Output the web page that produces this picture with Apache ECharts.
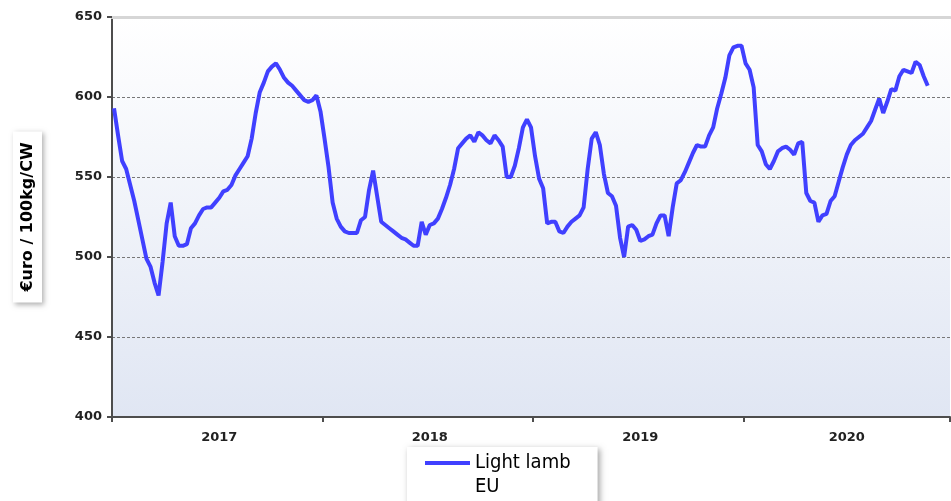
<!DOCTYPE html>
<html>
<head>
<meta charset="utf-8">
<title>Light lamb EU</title>
<script src="https://cdn.jsdelivr.net/npm/echarts@6/dist/echarts.min.js"></script>
<style>
  html, body { margin: 0; padding: 0; background: #fff; }
  #chart { width: 951px; height: 501px; }
</style>
</head>
<body>
<div id="chart"></div>
<script>
// weekly price (euro / 100kg carcass weight)
var years = ['2017', '2018', '2019', '2020'];
var weeksPerYear = [52, 52, 52, 51]; // last year axis is cut a little short
var yTicks = [400, 450, 500, 550, 600, 650];
var seriesName = 'Light lamb EU';

var price2017 = [
  593, 576, 560, 555, 545, 535, 523, 511, 499, 494,
  484, 476, 497, 521, 534, 513, 507, 507, 508, 518,
  521, 526, 530, 531, 531, 534, 537, 541, 542, 545,
  551, 555, 559, 563, 574, 590, 603, 609, 616, 619,
  621, 617, 612, 609, 607, 604, 601, 598, 597, 598,
  601, 591
];
var price2018 = [
  574, 556, 534, 524, 519, 516, 515, 515, 515, 523,
  525, 542, 554, 538, 522, 520, 518, 516, 514, 512,
  511, 509, 507, 507, 522, 514, 520, 521, 524, 530,
  537, 545, 555, 568, 571, 574, 576, 572, 578, 576,
  573, 571, 576, 573, 569, 550, 550, 557, 568, 581,
  586, 581
];
var price2019 = [
  563, 549, 543, 521, 522, 522, 516, 515, 519, 522,
  524, 526, 531, 555, 574, 578, 570, 552, 540, 538,
  532, 512, 500, 519, 520, 517, 510, 511, 513, 514,
  521, 526, 526, 513, 531, 546, 548, 553, 559, 565,
  570, 569, 569, 576, 581, 593, 602, 612, 626, 631,
  632, 632
];
var price2020 = [
  621, 617, 606, 570, 566, 558, 555, 560, 566, 568,
  569, 567, 564, 571, 572, 540, 535, 534, 522, 526,
  527, 535, 538, 547, 556, 564, 570, 573, 575, 577,
  581, 585, 592, 599, 590, 597, 605, 604, 613, 617,
  616, 615, 622, 620, 613, 607
];

// week categories, ticks at year start, year label in the middle of the year
var weeks = [];
var yearStart = [];
var yearMid = [];
years.forEach(function (y, k) {
  yearStart.push(weeks.length);
  yearMid.push(weeks.length + Math.floor(weeksPerYear[k] / 2));
  for (var w = 1; w <= weeksPerYear[k]; w++) {
    weeks.push(y + ' W' + w);
  }
});
var prices = price2017.concat(price2018, price2019, price2020);

var axisColor = '#4d4d4d';
var labelFont = {
  fontFamily: 'DejaVu Sans',
  fontWeight: 'bold',
  fontSize: 13,
  color: '#222'
};

var chart = echarts.init(document.getElementById('chart'), null, { renderer: 'canvas' });

chart.setOption({
  backgroundColor: '#fff',
  animation: false,
  grid: {
    left: 112,
    right: 1,
    top: 17,
    bottom: 84,
    containLabel: false,
    outerBoundsMode: 'none',
    show: true,
    borderWidth: 0,
    backgroundColor: new echarts.graphic.LinearGradient(0, 0, 0, 1, [
      { offset: 0, color: '#ffffff' },
      { offset: 1, color: '#e0e6f3' }
    ])
  },
  legend: {
    left: 407,
    top: 447,
    orient: 'vertical',
    backgroundColor: '#fff',
    shadowBlur: 6,
    shadowColor: 'rgba(0,0,0,0.35)',
    shadowOffsetX: 2,
    shadowOffsetY: 2,
    padding: [4, 27, 12, 18],
    itemWidth: 45,
    itemHeight: 28,
    // line sits on the first text row, the empty stroke just stretches the box
    icon: 'path://M0,0H45V4H0Z M0,28L45,28',
    symbolKeepAspect: false,
    textStyle: {
      fontFamily: 'DejaVu Sans Condensed, Roboto Condensed, Liberation Sans Narrow, sans-serif',
      fontSize: 20,
      lineHeight: 24,
      color: '#000'
    },
    formatter: function (name) {
      return name.replace(' EU', '\nEU');
    },
    data: [seriesName]
  },
  xAxis: [
    {
      type: 'category',
      data: weeks,
      boundaryGap: true,
      axisLine: { show: true, lineStyle: { color: axisColor, width: 2 } },
      axisTick: {
        show: true,
        length: 5,
        interval: function (i) { return yearStart.indexOf(i) >= 0; },
        lineStyle: { color: axisColor, width: 2 }
      },
      axisLabel: Object.assign({
        interval: function (i) { return yearMid.indexOf(i) >= 0; },
        formatter: function (v) { return v.slice(0, 4); },
        margin: 14
      }, labelFont),
      splitLine: { show: false }
    },
    {
      // light grey line closing the top of the plot
      type: 'value',
      position: 'top',
      min: 0,
      max: 1,
      axisLine: { show: true, lineStyle: { color: '#d6d6d6', width: 3 } },
      axisTick: { show: false },
      axisLabel: { show: false },
      splitLine: { show: false }
    }
  ],
  yAxis: {
    type: 'value',
    min: yTicks[0],
    max: yTicks[yTicks.length - 1],
    interval: yTicks[1] - yTicks[0],
    name: '€uro / 100kg/CW',
    nameLocation: 'middle',
    nameRotate: 90,
    nameGap: 70,
    nameTextStyle: {
      fontFamily: 'DejaVu Sans',
      fontWeight: 'bold',
      fontSize: 16,
      color: '#000',
      backgroundColor: '#fff',
      padding: [7, 11, 6, 11],
      shadowBlur: 5,
      shadowColor: 'rgba(0,0,0,0.3)',
      shadowOffsetX: 2,
      shadowOffsetY: 2
    },
    axisLine: { show: true, lineStyle: { color: axisColor, width: 2 } },
    axisTick: { show: true, length: 5, lineStyle: { color: axisColor, width: 2 } },
    axisLabel: Object.assign({ margin: 10 }, labelFont),
    splitLine: {
      show: true,
      showMinLine: false,
      showMaxLine: false,
      lineStyle: { color: '#777', width: 1, type: [3, 2] }
    }
  },
  series: [
    {
      name: seriesName,
      type: 'line',
      xAxisIndex: 0,
      data: prices,
      showSymbol: false,
      symbol: 'none',
      smooth: false,
      color: '#4040ff',
      lineStyle: { color: '#4040ff', width: 4 },
      z: 5
    }
  ]
});
</script>
</body>
</html>
